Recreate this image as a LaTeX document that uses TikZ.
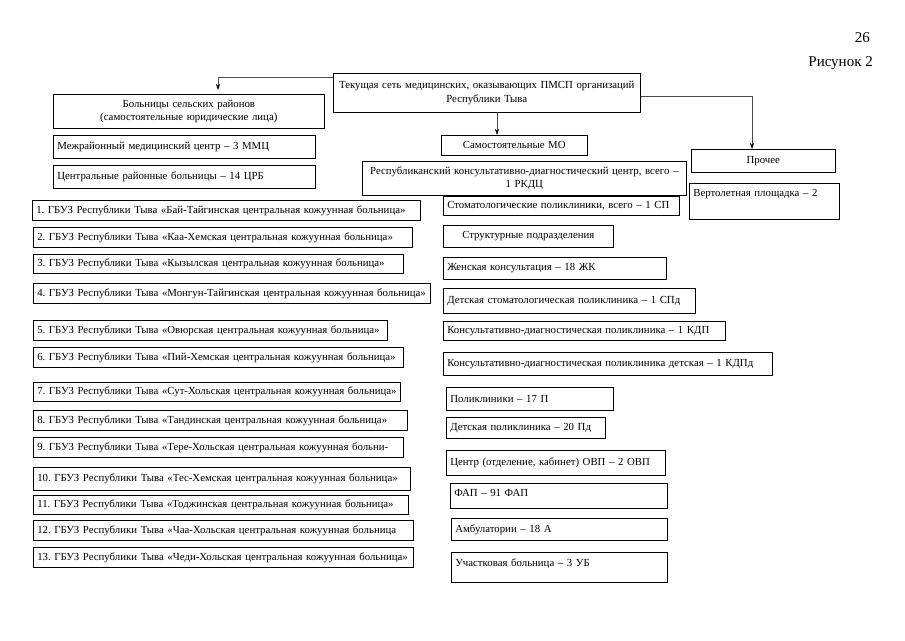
\documentclass[tikz,border=0pt]{standalone}
\usepackage{fontspec}
\setmainfont{Liberation Serif}
\usetikzlibrary{arrows.meta}
\frenchspacing
\tikzset{
  box/.style={draw, line width=0.6pt, inner xsep=4pt, inner ysep=1pt, anchor=north west,
    font=\fontsize{10.8}{13.5}\selectfont},
  lbox/.style={box, align=left},
  cbox/.style={box, align=center},
  conn/.style={draw=black!70, line width=0.6pt, -{Stealth[length=6pt,width=4pt,black]}},
  pagetext/.style={font=\fontsize{15}{17}\selectfont, inner sep=0pt}
}
\newcommand{\bx}[7]{\node[#1, text width=#4pt-8pt, minimum height=#5pt] (#6) at (#2,#3) {#7};}
\newcommand{\lb}[6]{\node[lbox, text width=#3pt-8pt, minimum height=#4pt] (#5) at (#1,#2) {\mbox{#6}};}
\begin{document}
\begin{tikzpicture}[x=1pt,y=-1pt]
\useasboundingbox (0,0) rectangle (905,640);
\node[pagetext, anchor=east] (pg) at (870,38) {26};
\node[pagetext, anchor=east] (fig) at (873,63) {Рисунок 2};

\bx{cbox}{333}{73}{307}{39}{main}{Текущая сеть медицинских, оказывающих ПМСП организаций\\Республики Тыва}
\bx{cbox}{53}{94}{271}{34}{sel}{Больницы сельских районов\\(самостоятельные юридические лица)}
\lb{53}{135}{262}{23}{mmc}{Межрайонный медицинский центр – 3 ММЦ}
\lb{53}{165}{262}{23}{crb}{Центральные районные больницы – 14 ЦРБ}
\bx{cbox}{441}{135}{146}{20}{samo}{Самостоятельные МО}
\bx{cbox}{691}{149}{144}{23}{proch}{Прочее}
\bx{cbox}{362}{161}{324}{34}{rkdc}{Республиканский консультативно-диагностический центр, всего –\\1 РКДЦ}
\node[lbox, text width=142pt, text height=12pt, text depth=22pt] (vert) at (689,183) {\mbox{Вертолетная площадка – 2}};

\lb{32}{200}{388}{20}{h1}{1. ГБУЗ Республики Тыва «Бай-Тайгинская центральная кожуунная больница»}
\lb{33}{227}{379}{20}{h2}{2. ГБУЗ Республики Тыва «Каа-Хемская центральная кожуунная больница»}
\lb{33}{254}{370}{19}{h3}{3. ГБУЗ Республики Тыва «Кызылская центральная кожуунная больница»}
\lb{33}{283}{397}{20}{h4}{4. ГБУЗ Республики Тыва «Монгун-Тайгинская центральная кожуунная больница»}
\lb{33}{320}{354}{20}{h5}{5. ГБУЗ Республики Тыва «Овюрская центральная кожуунная больница»}
\lb{33}{347}{370}{20}{h6}{6. ГБУЗ Республики Тыва «Пий-Хемская центральная кожуунная больница»}
\lb{33}{382}{367}{19}{h7}{7. ГБУЗ Республики Тыва «Сут-Хольская центральная кожуунная больница»}
\lb{33}{410}{374}{20}{h8}{8. ГБУЗ Республики Тыва «Тандинская центральная кожуунная больница»}
\lb{33}{437}{370}{20}{h9}{9. ГБУЗ Республики Тыва «Тере-Хольская центральная кожуунная больни-}
\lb{33}{467}{377}{23}{h10}{10. ГБУЗ Республики Тыва «Тес-Хемская центральная кожуунная больница»}
\lb{33}{495}{375}{19}{h11}{11. ГБУЗ Республики Тыва «Тоджинская центральная кожуунная больница»}
\lb{33}{520}{380}{20}{h12}{12. ГБУЗ Республики Тыва «Чаа-Хольская центральная кожуунная больница}
\lb{33}{547}{380}{20}{h13}{13. ГБУЗ Республики Тыва «Чеди-Хольская центральная кожуунная больница»}

\lb{443}{196}{236}{19}{stom}{Стоматологические поликлиники, всего – 1 СП}
\bx{cbox}{443}{225}{170}{22}{struct}{Структурные подразделения}
\lb{443}{257}{223}{22}{zhk}{Женская консультация – 18 ЖК}
\lb{443}{288}{252}{25}{dst}{Детская стоматологическая поликлиника – 1 СПд}
\lb{443}{321}{282}{19}{kdp}{Консультативно-диагностическая поликлиника – 1 КДП}
\lb{443}{352}{329}{23}{kdpd}{Консультативно-диагностическая поликлиника детская – 1 КДПд}
\lb{446}{387}{167}{23}{pol}{Поликлиники – 17 П}
\lb{446}{417}{159}{21}{dpol}{Детская поликлиника – 20 Пд}
\lb{446}{450}{219}{25}{ovp}{Центр (отделение, кабинет) ОВП – 2 ОВП}
\node[lbox, text width=209pt, text height=12pt, text depth=11pt] (fap) at (450,483) {\mbox{ФАП – 91 ФАП}};
\lb{451}{518}{216}{22}{amb}{Амбулатории – 18 А}
\node[lbox, text width=208pt, text height=13pt, text depth=15pt] (ub) at (451,552) {\mbox{Участковая больница – 3 УБ}};

\coordinate (mx) at (497,0);
\coordinate (rx) at (752,0);
\coordinate (ltip) at (218,90);
\draw[conn] ([yshift=-4pt]main.north west) -| (ltip);
\draw[conn] (main.south -| mx) -- (samo.north -| mx);
\draw[conn] ([yshift=-23pt]main.north east) -| (proch.north -| rx);
\end{tikzpicture}
\end{document}
